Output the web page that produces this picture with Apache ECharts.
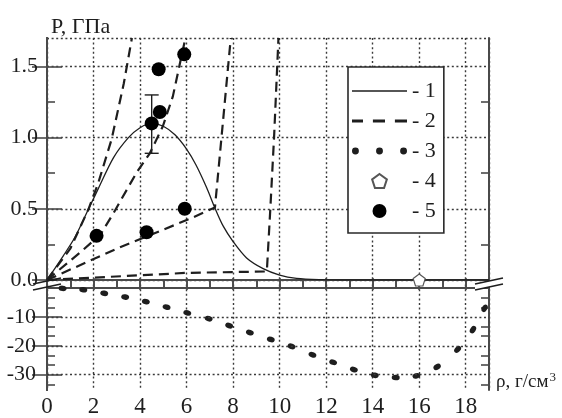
<!DOCTYPE html>
<html>
<head>
<meta charset="utf-8">
<script src="https://cdn.jsdelivr.net/npm/echarts@6/dist/echarts.min.js"></script>
<style>html,body{margin:0;padding:0;background:#fff}#c{width:562px;height:418px}</style>
</head>
<body>
<div id="c"></div>
<script>
// ---- data ----
const xLabels = [0, 2, 4, 6, 8, 10, 12, 14, 16, 18];
const xMajorTicks = [2, 4, 6, 8, 10, 12, 14, 16, 18];
const xMinorTicks = [1, 3, 5, 7, 9, 11, 13, 15, 17];
const yUpLabels = [0, 0.5, 1.0, 1.5];
const yUpMinor = [0.25, 0.75, 1.25];
const yLowLabels = [-30, -20, -10];
const yLowMinor = [-33.33, -26.67, -23.33, -16.67, -13.33, -6.67, -3.33];

const curve1 = [[0,0],[0.7,0.17],[1.2,0.3],[1.79,0.5],[2.2,0.64],[2.86,0.86],[3.5,1.0],[4.0,1.07],[4.5,1.1],[5.0,1.08],[5.5,1.02],[6.0,0.92],[6.4,0.81],[6.86,0.65],[7.22,0.505],[7.57,0.38],[8.0,0.27],[8.58,0.155],[9.29,0.08],[10,0.035],[10.73,0.012],[11.7,0.003],[13,0],[19,0]];
const dashA = [[0,0],[6,0.05],[9.45,0.06],[9.6,0.5],[9.76,1.0],[9.95,1.7]];
const dashB = [[0,0],[3.14,0.23],[6.14,0.43],[7.22,0.51],[7.5,1.0],[7.9,1.7]];
const dashC = [[0,0],[1.4,0.19],[2.3,0.32],[2.86,0.47],[3.87,0.76],[4.42,0.89],[4.98,1.08],[5.41,1.29],[5.95,1.7]];
const dashD = [[0,0],[1.0,0.22],[1.79,0.5],[2.2,0.68],[2.78,0.99],[3.3,1.38],[3.65,1.7]];
const series3 = [[0.67,-0.1],[1.56,-0.6],[2.46,-1.8],[3.36,-3.1],[4.25,-4.7],[5.14,-6.6],[6.03,-8.6],[6.95,-10.6],[7.83,-13.0],[8.72,-15.4],[9.62,-17.8],[10.51,-20.2],[11.41,-23.1],[12.30,-25.7],[13.19,-28.2],[14.09,-30.2],[14.99,-31.0],[15.88,-30.4],[16.77,-27.3],[17.65,-21.2],[18.31,-14.4],[18.81,-7.0]];
const series4 = [[16, 0]];
const series5 = [[2.13,0.31],[4.28,0.335],[5.92,0.5],[4.5,1.1],[4.85,1.18],[4.8,1.48],[5.9,1.585]];
const errBars = [[4.5, 0.89, 1.30]];

// ---- style ----
const FONT = 'Liberation Serif';
const INK = '#1e1e1e';
const FRAME = '#4a4a4a';
const GRIDC = '#3a3a3a';
const UP_MAX = 1.7, LOW_MIN = -35.3, LOW_MAX = 2.8, X_MAX = 19;

const chart = echarts.init(document.getElementById('c'), null, {renderer: 'canvas'});

const gridLineStyle = {color: GRIDC, width: 1.4, type: [2, 2.6]};
const gridLine = {show: true, lineStyle: gridLineStyle};
const frameLine = {show: true, lineStyle: {color: FRAME, width: 2}};

function xAx(grid, pos, ticks, len, opts) {
  return Object.assign({
    type: 'value', gridIndex: grid, position: pos, min: 0, max: X_MAX,
    axisLine: {show: false}, splitLine: {show: false},
    axisTick: {show: true, inside: true, length: len, customValues: ticks, lineStyle: {color: FRAME, width: 1.6}},
    axisLabel: {show: false}
  }, opts || {});
}
function yAx(grid, pos, mn, mx, ticks, len, opts) {
  return Object.assign({
    type: 'value', gridIndex: grid, position: pos, min: mn, max: mx,
    axisLine: frameLine, splitLine: {show: false},
    axisTick: {show: true, inside: true, length: len, customValues: ticks, lineStyle: {color: FRAME, width: 1.6}},
    axisLabel: {show: false}
  }, opts || {});
}
function gridAx(grid, pos, mn, mx, step) {
  return {type: 'value', gridIndex: grid, position: pos, min: mn, max: mx, interval: step,
    axisLine: {show: false}, axisTick: {show: false}, axisLabel: {show: false}, splitLine: gridLine};
}

const pentagon = 'path://M50,0L97.6,34.5L79.4,90.5L20.6,90.5L2.4,34.5Z';
const threeDots = 'path://M0,3a3,3 0 1,0 6,0a3,3 0 1,0 -6,0ZM21,3a3,3 0 1,0 6,0a3,3 0 1,0 -6,0ZM42,3a3,3 0 1,0 6,0a3,3 0 1,0 -6,0Z';
const solidIcon = 'path://M0,0H55V1.4H0Z';
const dashIcon = 'path://M0,0H10V2.6H0ZM19,0H30V2.6H19ZM39,0H50V2.6H39Z';

const dashStyle = {color: INK, width: 2.2, type: [10, 6]};
function dashSeries(data) {
  return {name: '2', type: 'line', xAxisIndex: 0, yAxisIndex: 0, data: data, symbol: 'none',
    lineStyle: dashStyle, itemStyle: {color: INK}, z: 3, silent: true};
}

const option = {
  animation: false,
  backgroundColor: '#fff',
  textStyle: {fontFamily: FONT},
  title: [
    {text: 'P, ГПа', left: 46, top: 11, textStyle: {fontFamily: FONT, fontSize: 22, fontWeight: 'normal', color: INK}},
    {text: '{a|ρ, г/см}{b|3}', left: 491, top: 366,
      textStyle: {fontWeight: 'normal', rich: {
        a: {fontFamily: FONT, fontSize: 19, fontWeight: 'normal', color: INK, lineHeight: 22},
        b: {fontFamily: FONT, fontSize: 13, fontWeight: 'normal', color: INK, verticalAlign: 'top', lineHeight: 22, padding: [0,0,8,1]}
      }}}
  ],
  grid: [
    {left: 47, right: 73, top: 38, height: 242},
    {left: 47, right: 73, top: 280, height: 111}
  ],
  xAxis: [
    xAx(0, 'top', xMinorTicks, 7, {axisLine: frameLine}),
    xAx(0, 'top', xMajorTicks, 10),
    xAx(1, 'bottom', xMinorTicks, 7, {axisLine: frameLine,
      axisLabel: {show: true, customValues: xLabels, fontFamily: FONT, fontSize: 23, color: INK, margin: 5}}),
    xAx(1, 'bottom', xMajorTicks, 10),
    gridAx(0, 'top', 0, X_MAX, 2),
    gridAx(1, 'bottom', 0, X_MAX, 2)
  ],
  yAxis: [
    yAx(0, 'left', 0, UP_MAX, yUpLabels, 15, {
      axisLabel: {show: true, customValues: yUpLabels, fontFamily: FONT, fontSize: 22, color: INK, margin: 9,
        formatter: v => v.toFixed(1)}}),
    yAx(0, 'left', 0, UP_MAX, yUpMinor, 8),
    yAx(0, 'right', 0, UP_MAX, yUpLabels, 15),
    yAx(0, 'right', 0, UP_MAX, yUpMinor, 8),
    yAx(1, 'left', LOW_MIN, LOW_MAX, yLowLabels, 15, {
      axisLabel: {show: true, customValues: yLowLabels, fontFamily: FONT, fontSize: 22, color: INK, margin: 11}}),
    yAx(1, 'left', LOW_MIN, LOW_MAX, yLowMinor, 8),
    yAx(1, 'right', LOW_MIN, LOW_MAX, yLowLabels, 15),
    yAx(1, 'right', LOW_MIN, LOW_MAX, yLowMinor, 8),
    gridAx(0, 'left', 0, UP_MAX, 0.5)
  ],
  legend: {
    orient: 'vertical', left: 348, top: 67,
    data: [
      {name: '1', icon: solidIcon}, {name: '2', icon: dashIcon}, {name: '3', icon: threeDots},
      {name: '4', icon: pentagon}, {name: '5', icon: 'circle'}
    ],
    formatter: '- {name}',
    itemWidth: 55, itemHeight: 14, itemGap: 8, itemTextGap: 6,
    padding: [13, 8, 11, 4],
    backgroundColor: '#fff', borderColor: '#2a2a2a', borderWidth: 1.6, borderRadius: 0,
    textStyle: {fontFamily: FONT, fontSize: 22, color: INK, lineHeight: 22},
    selectedMode: false
  },
  series: [
    {name: '1', type: 'line', xAxisIndex: 0, yAxisIndex: 0, data: curve1, symbol: 'none',
      smooth: 0.3, lineStyle: {color: INK, width: 1.3}, itemStyle: {color: INK}, z: 3},
    dashSeries(dashA), dashSeries(dashB), dashSeries(dashC), dashSeries(dashD),
    {name: '3', type: 'scatter', xAxisIndex: 2, yAxisIndex: 4, data: series3,
      symbol: 'circle', symbolSize: [8, 5.5],
      symbolRotate: function (val, params) {
        const i = params.dataIndex;
        const a = series3[Math.max(0, i - 1)], b = series3[Math.min(series3.length - 1, i + 1)];
        const pa = chart.convertToPixel({gridIndex: 1}, a), pb = chart.convertToPixel({gridIndex: 1}, b);
        if (!pa || !pb) return 0;
        return -Math.atan2(pb[1] - pa[1], pb[0] - pa[0]) * 180 / Math.PI;
      },
      itemStyle: {color: INK, opacity: 1}, z: 3,
      markLine: {silent: true, symbol: 'none', label: {show: false}, lineStyle: gridLineStyle,
        emphasis: {disabled: true}, data: yLowLabels.map(v => ({yAxis: v}))}},
    {name: '4', type: 'scatter', xAxisIndex: 0, yAxisIndex: 0, data: series4, symbol: pentagon, symbolSize: 12,
      itemStyle: {color: '#fff', borderColor: '#555', borderWidth: 1.2, opacity: 1}, z: 6},
    {name: '5', type: 'scatter', xAxisIndex: 0, yAxisIndex: 0, data: series5, symbol: 'circle', symbolSize: 14,
      itemStyle: {color: '#000', opacity: 1}, z: 5},
    {name: 'err', type: 'custom', xAxisIndex: 0, yAxisIndex: 0, data: errBars, encode: {x: 0, y: [1, 2]}, z: 4,
      renderItem: function (params, api) {
        const x = api.value(0), lo = api.coord([x, api.value(1)]), hi = api.coord([x, api.value(2)]);
        const w = 7, st = {stroke: INK, lineWidth: 1.4};
        return {type: 'group', children: [
          {type: 'line', shape: {x1: lo[0], y1: lo[1], x2: hi[0], y2: hi[1]}, style: st},
          {type: 'line', shape: {x1: lo[0] - w, y1: lo[1], x2: lo[0] + w, y2: lo[1]}, style: st},
          {type: 'line', shape: {x1: hi[0] - w, y1: hi[1], x2: hi[0] + w, y2: hi[1]}, style: st}
        ]};
      }}
  ]
};
chart.setOption(option);

// re-apply so symbolRotate can use the laid-out coordinate system
chart.setOption({series: option.series});

// axis break marks
const o = chart.convertToPixel({gridIndex: 0}, [0, 0]);
const e = chart.convertToPixel({gridIndex: 0}, [X_MAX, 0]);
function breakMark(cx, cy, white) {
  const els = [];
  if (white) {
    els.push({type: 'polygon', shape: {points: [[cx - 14, cy + 4], [cx + 14, cy - 2], [cx + 14, cy + 4], [cx - 14, cy + 10]]},
      style: {fill: '#fff'}, z: 100});
  }
  els.push({type: 'line', shape: {x1: cx - 14, y1: cy + 4, x2: cx + 14, y2: cy - 2}, style: {stroke: INK, lineWidth: 1.5}, z: 101});
  els.push({type: 'line', shape: {x1: cx - 14, y1: cy + 10, x2: cx + 14, y2: cy + 4}, style: {stroke: INK, lineWidth: 1.5}, z: 101});
  return els;
}
chart.setOption({graphic: breakMark(o[0], o[1], false).concat(breakMark(e[0], e[1], true))});
</script>
</body>
</html>
